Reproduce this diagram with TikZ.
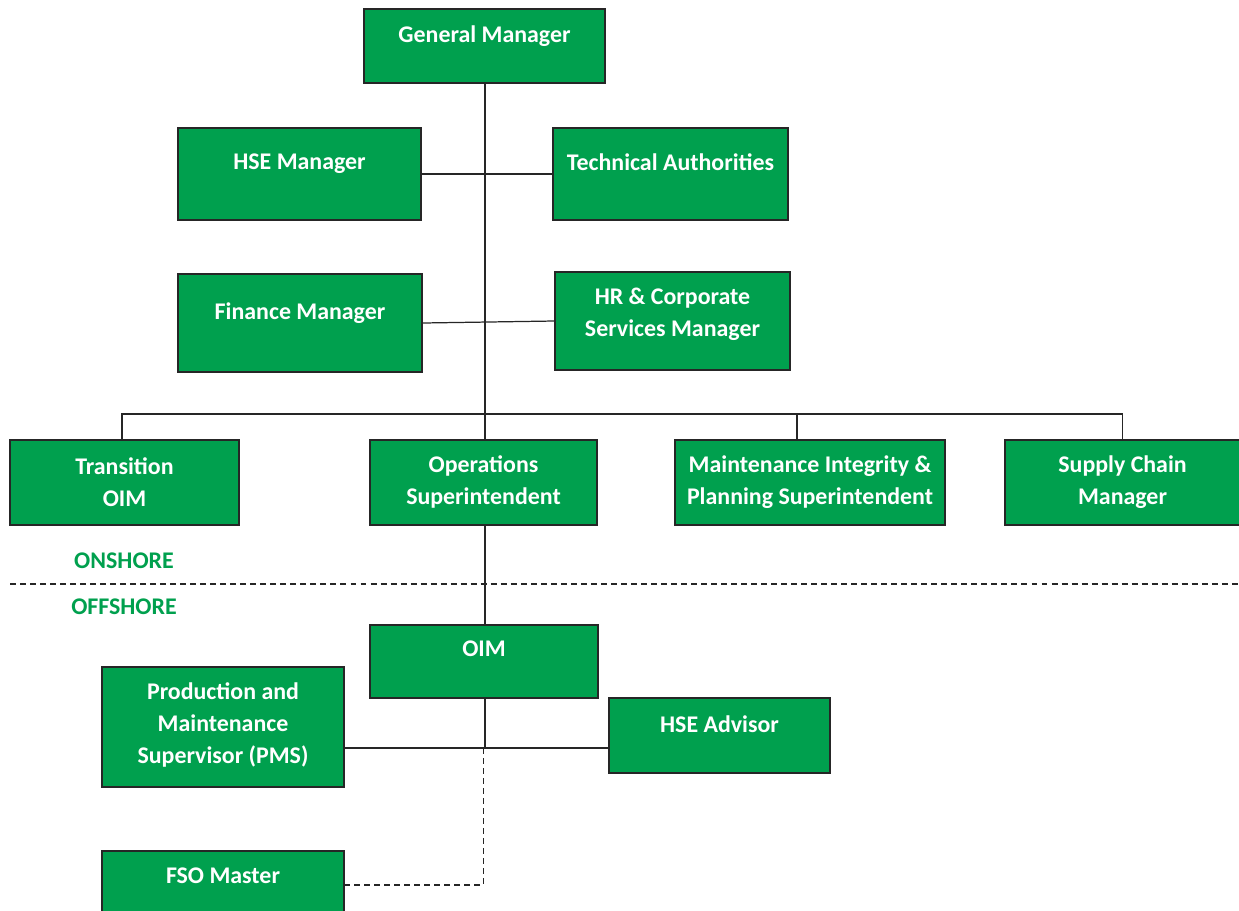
\documentclass[tikz,border=0pt]{standalone}
\usepackage{fontspec}
\setmainfont{Carlito}
\definecolor{orggreen}{HTML}{00A04E}
\usepackage{tikz}

\begin{document}
\begin{tikzpicture}[
  x=0.02cm, y=-0.02cm,
  box/.style={draw=black!85, fill=orggreen, line width=0.7pt, inner sep=0pt},
  txt/.style={text=white, font=\bfseries\fontsize{13.6}{18.2}\selectfont, align=center, inner sep=0pt},
  zone/.style={text=orggreen, font=\bfseries\fontsize{13.6}{18.2}\selectfont, inner sep=0pt},
  lnk/.style={draw=black!85, line width=0.7pt},
  dsh/.style={draw=black!85, line width=0.7pt, dash pattern=on 3.4pt off 2.3pt}
]
  \useasboundingbox (0,0) rectangle (1239,910);
  \clip (0,0) rectangle (1239,910);

  % Onshore boxes
  \node[box, minimum width=4.82cm, minimum height=1.48cm] (gm)  at (484.5, 46) {};
  \node[box, minimum width=4.86cm, minimum height=1.84cm] (hse) at (299.5,174) {};
  \node[box, minimum width=4.70cm, minimum height=1.84cm] (ta)  at (670.5,174) {};
  \node[box, minimum width=4.88cm, minimum height=1.96cm] (fin) at (300,323) {};
  \node[box, minimum width=4.70cm, minimum height=1.96cm] (hr)  at (672.5,321) {};
  \node[box, minimum width=4.58cm, minimum height=1.70cm] (trn) at (124.5,482.5) {};
  \node[box, minimum width=4.54cm, minimum height=1.70cm] (ops) at (483.5,482.5) {};
  \node[box, minimum width=5.40cm, minimum height=1.70cm] (mi)  at (810,482.5) {};
  \node[box, minimum width=4.70cm, minimum height=1.70cm] (sc)  at (1122.5,482.5) {};

  \node[txt] (gm-t)  at (484.5, 36) {General Manager};
  \node[txt] (hse-t) at (299.5,164) {HSE Manager};
  \node[txt] (ta-t)  at (670.5,162) {Technical Authorities};
  \node[txt] (fin-t) at (300,313) {Finance Manager};
  \node[txt] (hr-t)  at (672.5,314) {HR \& Corporate\\Services Manager};
  \node[txt] (trn-t) at (124.5,482) {Transition\\OIM};
  \node[txt] (ops-t) at (483.5,482) {Operations\\Superintendent};
  \node[txt] (mi-t)  at (810,482) {Maintenance Integrity \&\\Planning Superintendent};
  \node[txt] (sc-t)  at (1122.5,482) {Supply Chain\\Manager};

  % Onshore / offshore split
  \coordinate (sepl) at (10,584);
  \coordinate (sepr) at (1239,584);
  \draw[dsh] (sepl) -- (sepr);
  \node[zone] (on)  at (124,561) {ONSHORE};
  \node[zone] (off) at (124,607) {OFFSHORE};

  % Offshore boxes
  \node[box, minimum width=4.56cm, minimum height=1.46cm] (oim) at (484,661.5) {};
  \node[box, minimum width=4.84cm, minimum height=2.40cm] (pms) at (223,727) {};
  \node[box, minimum width=4.42cm, minimum height=1.50cm] (adv) at (719.5,735.5) {};
  \node[box, minimum width=4.84cm, minimum height=1.48cm] (fso) at (223,888) {};

  \node[txt] (oim-t) at (484,649) {OIM};
  \node[txt] (pms-t) at (223,725) {Production and\\Maintenance\\Supervisor (PMS)};
  \node[txt] (adv-t) at (719.5,724) {HSE Advisor};
  \node[txt] (fso-t) at (223,876) {FSO Master};

  % Reporting lines
  \coordinate (bus)   at (485,414);
  \coordinate (mdrop) at (797,414);
  \coordinate (jn)    at (485,748);
  \coordinate (fsoj)  at (344,885);
  \draw[lnk] (gm.south -| bus) -- (bus |- ops.north);
  \draw[lnk] (hse.east) -- (ta.west);
  \draw[lnk] (fin.east) -- (hr.west);
  \draw[lnk] (trn.north -| 122,0) |- (sc.north |- bus) -- (sc.north);
  \draw[lnk] (mdrop) -- (mdrop |- mi.north);
  \draw[lnk] (ops.south -| bus) -- (oim.north -| bus);
  \draw[lnk] (oim.south -| jn) -- (jn);
  \draw[lnk] (pms.east |- jn) -- (adv.west |- jn);
  \draw[dsh] ([xshift=-1pt]jn) |- (fsoj);
\end{tikzpicture}
\end{document}
